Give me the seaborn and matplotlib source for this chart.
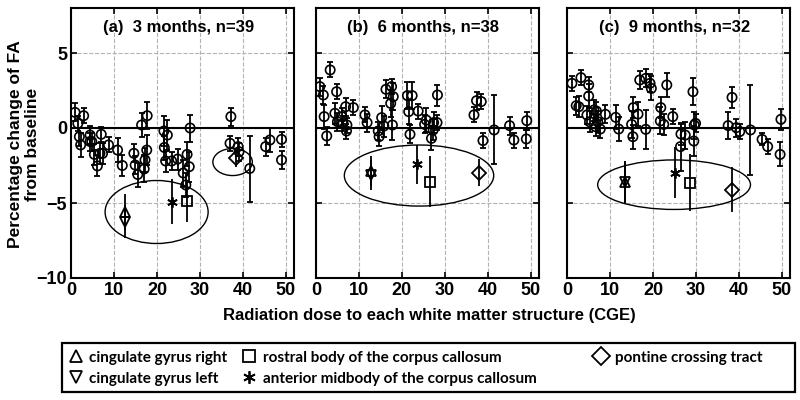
import matplotlib
matplotlib.use("Agg")
import matplotlib.pyplot as plt
from matplotlib.lines import Line2D
from matplotlib.patches import Ellipse, Rectangle
import seaborn as sns

# ---- panel (a): 3 months ----
a_x = [0.9, 1.55, 2.9, 1.9, 2.2, 4.4, 4.4, 4.8, 5.4, 6.1, 6.7, 7.0, 7.3, 8.7, 10.8, 11.9,
       14.6, 14.9, 15.5, 16.4, 17.7, 17.6, 17.2, 17.0, 21.6, 22.4, 21.7, 22.0, 23.4, 24.8,
       26.1, 27.0, 27.5, 26.7, 27.7, 37.2, 37.0, 38.9, 39.1, 41.6, 45.3, 46.3, 49.0, 49.0]
a_y = [1.04, 0.3, 0.82, -0.58, -1.13, -0.47, -0.9, -0.9, -1.76, -2.53, -1.69, -0.42, -1.7,
       -1.13, -1.47, -2.5, -1.69, -2.47, -3.1, 0.2, 0.82, -1.47, -2.13, -2.73, -0.2, -0.47,
       -1.3, -2.2, -2.2, -2.07, -3.0, -1.76, -2.58, -3.8, 0.0, 0.76, -1.02, -1.24, -1.58,
       -2.7, -1.24, -0.8, -0.76, -2.13]
a_err = [0.6, 0.5, 0.5, 0.6, 0.8, 0.6, 0.6, 0.6, 0.7, 0.7, 0.7, 0.5, 0.7, 0.5, 0.8, 0.7,
         0.6, 0.6, 0.8, 0.8, 0.9, 1.0, 0.8, 0.9, 1.0, 1.0, 0.8, 0.7, 0.6, 0.7, 0.9, 0.8,
         1.0, 0.8, 0.9, 0.6, 0.5, 0.6, 0.6, 2.2, 0.6, 0.8, 0.5, 0.6]

# ---- panel (b): 6 months ----
b_x = [0.9, 1.7, 1.9, 2.5, 3.3, 4.4, 4.8, 5.0, 6.0, 6.3, 6.9, 7.1, 7.2, 8.7, 11.4, 11.9,
       14.5, 14.7, 15.3, 15.8, 16.3, 17.4, 17.6, 18.0, 17.8, 21.3, 22.4, 21.6, 21.9, 23.8,
       25.3, 25.7, 26.9, 27.3, 27.4, 28.2, 28.3, 36.8, 37.4, 38.5, 38.9, 41.5, 45.1, 46.1,
       49.1, 49.0]
b_y = [2.76, 2.2, 0.76, -0.53, 3.87, 0.98, 2.42, 0.42, 0.76, 0.31, 1.42, -0.2, 0.2, 1.36,
       0.87, 0.36, -0.2, -0.58, 0.69, 0.13, 2.58, 1.64, 2.76, 2.09, 0.2, 2.16, 2.16, 1.09,
       -0.42, 1.13, 0.24, 0.53, -0.69, -0.13, 0.36, 0.36, 2.2, 0.87, 1.82, 1.76, -0.84,
       -0.13, 0.16, -0.8, 0.49, -0.73]
b_err = [0.6, 0.6, 0.8, 0.6, 0.5, 0.7, 0.5, 0.6, 0.6, 0.5, 0.6, 0.5, 0.5, 0.5, 0.5, 0.6,
         0.6, 0.6, 0.8, 0.7, 0.6, 0.9, 0.5, 0.9, 1.0, 0.9, 0.9, 0.8, 0.6, 0.5, 0.6, 0.8,
         0.8, 0.7, 0.7, 0.5, 0.7, 0.5, 0.6, 0.5, 0.5, 2.3, 0.6, 0.5, 0.6, 0.6]

# ---- panel (c): 9 months ----
c_x = [1.1, 3.2, 2.1, 2.7, 5.0, 5.0, 4.6, 5.2, 6.2, 6.8, 6.6, 7.1, 7.7, 8.9, 11.3, 12.0,
       15.0, 15.4, 15.3, 16.5, 16.9, 18.3, 19.3, 19.6, 18.3, 21.8, 21.7, 22.5, 23.2, 24.6,
       26.5, 26.4, 27.5, 29.3, 29.6, 29.5, 29.9, 37.5, 38.4, 39.4, 40.2, 42.7, 45.4, 46.7,
       49.8, 49.6]
c_y = [2.98, 3.36, 1.49, 1.42, 2.87, 2.13, 0.87, 0.42, 1.2, 1.13, 0.09, 0.42, -0.07, 0.91,
       0.71, -0.07, 0.24, 1.36, -0.58, 0.93, 3.2, 3.31, 2.98, 2.64, -0.09, 1.36, 0.47, 0.24,
       2.87, 0.76, -0.4, -1.24, -0.47, 2.42, 0.2, -0.87, 0.31, 0.16, 2.04, 0.02, -0.24,
       -0.13, -0.76, -1.24, 0.58, -1.76]
c_err = [0.5, 0.5, 0.6, 0.7, 0.5, 0.8, 0.6, 0.7, 0.7, 0.6, 0.6, 0.7, 0.6, 0.6, 0.8, 0.8,
         0.9, 0.7, 0.8, 0.8, 0.6, 0.6, 0.6, 0.8, 1.3, 0.7, 0.9, 0.7, 0.8, 0.5, 0.7, 1.6,
         0.9, 0.9, 0.9, 1.0, 0.6, 0.9, 0.7, 0.6, 0.5, 3.0, 0.4, 0.5, 0.7, 0.8]

# highlighted structures: (x, y, err) per panel
structures = ["cingulate gyrus right", "cingulate gyrus left",
              "rostral body of the corpus callosum",
              "anterior midbody of the corpus callosum", "pontine crossing tract"]
markers = ["^", "v", "s", (6, 2, 0), "D"]
hl_a = [(12.56, -5.58, 1.2), (12.6, -6.24, 1.1), (27.0, -4.85, 1.4), (23.5, -4.9, 1.5), (38.5, -2.0, 0.6)]
hl_b = [(12.8, -2.85, 1.0), (12.8, -3.15, 1.0), (26.5, -3.58, 1.7), (23.6, -2.4, 1.3), (38.0, -2.98, 0.9)]
hl_c = [(13.4, -3.58, 1.4), (13.4, -3.58, 1.4), (28.5, -3.64, 1.9), (25.1, -2.98, 1.7), (38.5, -4.13, 1.5)]

# ellipses (cx, cy, width, height)
ell_a = [(19.9, -5.6, 24.0, 4.2), (37.6, -2.27, 9.2, 1.8)]
ell_b = [(24.0, -3.17, 34.8, 4.07)]
ell_c = [(24.9, -3.78, 35.6, 3.3)]

titles = ["(a)  3 months, n=39", "(b)  6 months, n=38", "(c)  9 months, n=32"]

sns.set_theme(style="ticks")
plt.rcParams["font.family"] = ["Liberation Sans", "DejaVu Sans"]
plt.rcParams["font.weight"] = "bold"
for key in ["text.color", "axes.labelcolor", "xtick.color", "ytick.color"]:
    plt.rcParams[key] = "black"

fig = plt.figure(figsize=(8, 4), dpi=100)
lefts = [0.089, 0.395, 0.709]
panels = [(a_x, a_y, a_err, hl_a, ell_a), (b_x, b_y, b_err, hl_b, ell_b), (c_x, c_y, c_err, hl_c, ell_c)]

for i, (px, py, perr, hl, ells) in enumerate(panels):
    ax = fig.add_axes([lefts[i], 0.305, 0.279, 0.675])
    ax.grid(True, linestyle="--", color="0.7", linewidth=0.8)
    ax.axhline(0, color="black", linewidth=1.5, zorder=2)
    ax.errorbar(px, py, yerr=perr, fmt="none", ecolor="black", elinewidth=1.3,
                capsize=2, capthick=1.3, zorder=3)
    sns.scatterplot(x=px, y=py, ax=ax, marker="o", s=45, facecolor="none",
                    edgecolor="black", linewidth=1.2, zorder=4)
    for (hx, hy, he), m in zip(hl, markers):
        ax.errorbar([hx], [hy], yerr=[he], fmt="none", ecolor="black", elinewidth=1.3,
                    capsize=0, zorder=3)
        ax.plot([hx], [hy], marker=m, mfc="none", mec="black", ms=7.5, mew=1.3,
                linestyle="none", zorder=5)
    for cx, cy, w, h in ells:
        ax.add_patch(Ellipse((cx, cy), w, h, fill=False, edgecolor="black", linewidth=1.0))
    ax.set_xlim(0, 52)
    ax.set_ylim(-10, 8)
    ax.set_xticks([0, 10, 20, 30, 40, 50])
    ax.set_yticks([-10, -5, 0, 5])
    ax.tick_params(direction="in", top=True, right=True, labelsize=13, length=4, width=1.2,
                   pad=3)
    if i > 0:
        ax.set_yticklabels([])
    for lab in ax.get_xticklabels() + ax.get_yticklabels():
        lab.set_fontweight("bold")
    for sp in ax.spines.values():
        sp.set_linewidth(1.5)
        sp.set_color("black")
    ax.text(25, 6.7, titles[i], ha="center", va="center", fontsize=12, fontweight="bold")

fig.text(0.537, 0.212, "Radiation dose to each white matter structure (CGE)",
         ha="center", va="center", fontsize=12, fontweight="bold")
fig.text(0.03, 0.64, "Percentage change of FA\nfrom baseline", rotation=90,
         ha="center", va="center", fontsize=12.5, fontweight="bold", linespacing=1.1)

# legend box below the panels, three columns placed separately
fig.patches.append(Rectangle((0.0775, 0.02), 0.916, 0.1225, transform=fig.transFigure,
                             fill=False, edgecolor="black", linewidth=1.6))
handles = [Line2D([], [], marker=m, mfc="none", mec="black", ms=9, mew=1.3, linestyle="none")
           for m in markers]
col_groups = [(0, 2, 0.085), (2, 4, 0.302), (4, 5, 0.742)]
for start, stop, xpos in col_groups:
    fig.legend(handles[start:stop], structures[start:stop], loc="upper left",
               bbox_to_anchor=(xpos, 0.123), frameon=False, borderpad=0.0,
               borderaxespad=0.0, handlelength=1.0, handletextpad=0.4, labelspacing=0.45,
               prop={"family": "Lato", "weight": "bold", "size": 11})

fig.savefig("out.png", dpi=100)
